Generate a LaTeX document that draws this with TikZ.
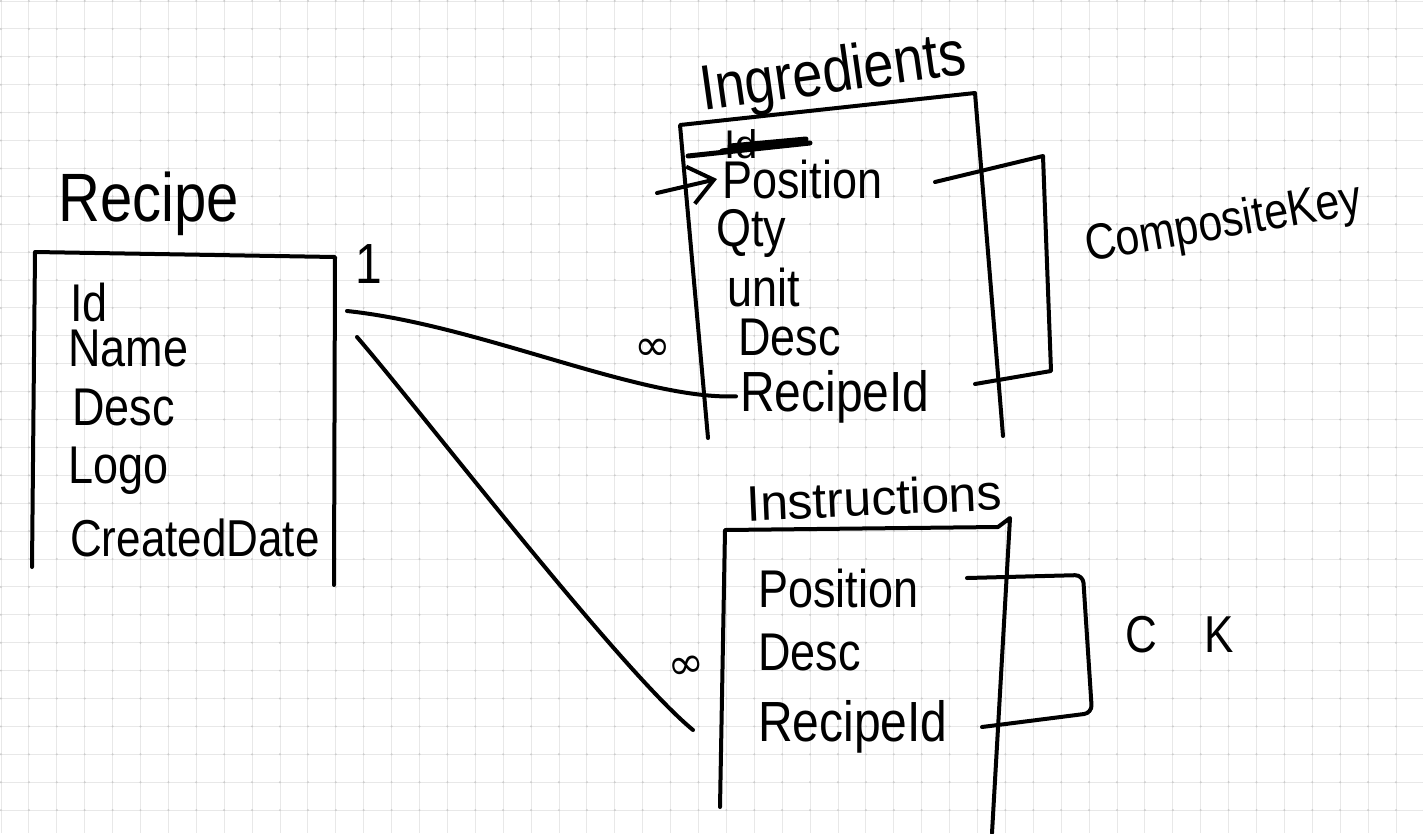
\documentclass[tikz,border=0pt]{standalone}
\usepackage{fontspec}
\usepackage{graphicx}
\setmainfont{Liberation Sans}
\newfontfamily\symfnt{DejaVu Sans}
\usetikzlibrary{arrows.meta}
\newcommand\hw[1]{\scalebox{1}[1.18]{#1}}
\begin{document}
\begin{tikzpicture}[x=1pt,y=-1pt,
  ink/.style={line width=4pt, line cap=round, line join=round, black},
  gridline/.style={line width=1pt, color=black!9},
  griddot/.style={fill=black!20},
  item/.style={inner sep=0pt, anchor=base west, font=\fontsize{45}{50}\selectfont},
  bigitem/.style={inner sep=0pt, anchor=base west, font=\fontsize{48}{52}\selectfont},
  label/.style={inner sep=0pt, font=\fontsize{44}{50}\selectfont},
  inf/.style={inner sep=0pt, font=\symfnt\fontsize{44}{50}\selectfont},
]
\useasboundingbox (0,0) rectangle (1423,833);
\fill[white] (0,0) rectangle (1423,833);
% grid
\foreach \i in {0,...,51} \draw[gridline] ({1+27.9*\i},0) -- ({1+27.9*\i},833);
\foreach \j in {0,...,29} \draw[gridline] (0,{1+27.9*\j}) -- (1423,{1+27.9*\j});
\foreach \i in {0,...,51} \foreach \j in {0,...,29} \fill[griddot] ({1+27.9*\i},{1+27.9*\j}) circle (1.1);

% ---------- Recipe ----------
\node[inner sep=0pt, anchor=base west, font=\fontsize{58}{62}\selectfont] (recipeT) at (58,221) {\hw{Recipe}};
\coordinate (rbl) at (32,567);
\coordinate (rtl) at (35,252);
\coordinate (rtr) at (335,257);
\coordinate (rbr) at (334,585);
\draw[ink] (rbl) -- (rtl) -- (rtr) -- (rbr);
\node[item] (rId) at (70,321) {\hw{Id}};
\node[item] (rName) at (68,366) {\hw{Name}};
\node[item] (rDesc) at (72,425) {\hw{Desc}};
\node[item] (rLogo) at (68,483) {\hw{Logo}};
\node[item, font=\fontsize{44}{50}\selectfont] (rCreated) at (70,556) {\hw{CreatedDate}};
\node[label, font=\fontsize{48}{50}\selectfont] (one) at (369,264) {\hw{1}};

% ---------- Ingredients ----------
\node[inner sep=0pt, anchor=base west, rotate=8, font=\fontsize{54}{58}\selectfont] (ingT) at (703,111) {\hw{Ingredients}};
\coordinate (ibl) at (708,438);
\coordinate (itl) at (680,125);
\coordinate (itr) at (975,93);
\coordinate (ibr) at (1003,436);
\draw[ink] (ibl) -- (itl) -- (itr) -- (ibr);
\node[item, font=\fontsize{40}{44}\selectfont] (ingId) at (724,158) {Id};
\draw[ink, line width=5pt] (688,156) -- (810,143) -- (722,151) -- (806,139) -- (730,146);
\node[item] (ingPos) at (722,198) {\hw{Position}};
\node[item] (ingQty) at (716,246) {\hw{Qty}};
\node[item] (ingUnit) at (727,306) {\hw{unit}};
\node[item] (ingDesc) at (738,355) {\hw{Desc}};
\node[bigitem] (ingRid) at (740,411) {\hw{RecipeId}};
\coordinate (arrS) at (657,193);
\draw[ink, -{Straight Barb[length=24pt,width=38pt,line width=4pt]}] (arrS) -- ([xshift=-5pt]ingPos.west);
\node[inf] (infI) at (653,350) {∞};

% composite key bracket (Ingredients)
\coordinate (ck1a) at (935,182);
\coordinate (ck1b) at (1043,156);
\coordinate (ck1c) at (1051,371);
\coordinate (ck1d) at (975,384);
\draw[ink] (ck1a) -- (ck1b) -- (ck1c) -- (ck1d);
\node[inner sep=0pt, anchor=base west, rotate=10, font=\fontsize{43}{48}\selectfont] (ckI) at (1088,262) {\hw{CompositeKey}};

% ---------- Instructions ----------
\node[inner sep=0pt, anchor=base west, rotate=2.5, font=\fontsize{50}{54}\selectfont] (insT) at (747,521) {Instructions};
\coordinate (nbl) at (720,807);
\coordinate (ntl) at (725,530);
\coordinate (ntm) at (998,527);
\coordinate (ntr) at (1010,518);
\coordinate (nbr) at (992,833);
\draw[ink] (nbl) -- (ntl) -- (ntm) -- (ntr) -- (nbr);
\node[item] (insPos) at (758,607) {\hw{Position}};
\node[item] (insDesc) at (758,670) {\hw{Desc}};
\node[bigitem] (insRid) at (758,741) {\hw{RecipeId}};
\node[inf, rotate=10] (infN) at (687,668) {∞};

% composite key bracket (Instructions)
\coordinate (ck2a) at (967,578);
\coordinate (ck2b) at (1083,575);
\coordinate (ck2c) at (1092,713);
\coordinate (ck2d) at (982,727);
\draw[ink, rounded corners=8pt] (ck2a) -- (ck2b) -- (ck2c) -- (ck2d);
\node[label, anchor=base west] (ckN) at (1125,652) {\hw{C\hspace{48pt}K}};

% ---------- relationships ----------
\coordinate (c1s) at (347,311);
\coordinate (c2s) at (357,337);
\coordinate (c2e) at (693,730);
\draw[ink] (c1s) .. controls (480,325) and (640,400) .. ([xshift=-4pt]ingRid.west);
\draw[ink] (c2s) .. controls (420,410) and (620,670) .. (c2e);
\end{tikzpicture}
\end{document}
